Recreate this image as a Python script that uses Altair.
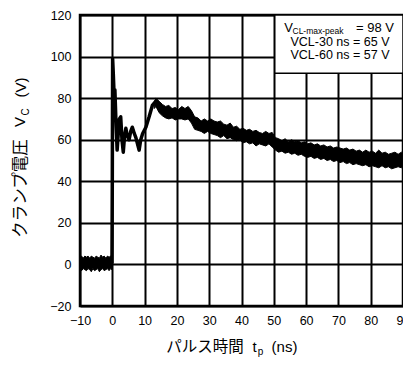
import altair as alt
import pandas as pd

# ---- data ----
base_t = [-10, -9.5, -9, -8.5, -8, -7.5, -7, -6.5, -6, -5.5, -5, -4.5, -4, -3.5, -3, -2.5, -2, -1.5, -1, -0.5, -0.1]
base_lo = [-2, -3, -2, -2.5, -3, -2, -2.5, -3.5, -2, -3, -2.5, -2, -3.5, -2.5, -2, -3, -2.5, -2, -3, -2, -2.5]
base_hi = [3.5, 4, 3, 4, 3.5, 4, 3, 4, 3.5, 3, 4, 3.5, 3, 4.5, 3.5, 4, 3, 4, 3.5, 4, 3.5]

spike_t = [-0.1, 0.0, 0.1, 0.3, 0.5, 0.8, 1.1, 1.5, 1.8, 2.2, 2.6, 3.0, 3.4, 3.8, 4.2, 4.6, 5.2,
           5.7, 6.2, 6.8, 7.3, 7.8, 8.3, 8.8, 9.4, 10.4, 11.4, 12.4, 13.5, 14.2]
spike_v = [0.5, 40, 99, 92, 84, 84, 70, 55, 62, 70, 71, 60, 54, 62, 65.5, 62, 60,
           64, 66, 63, 61, 58, 55, 60, 63, 66, 71, 76.5, 78.5, 77]

band_t = [13.0, 13.5, 14.5, 15.5, 16.5, 17.5, 18.5, 19.5, 20.5, 21.5, 22.5, 23.5, 24.5, 25.5,
          26.5, 27.5, 28.5, 29.5, 30.5, 31.5, 32.5, 33.5, 34.5, 35.5, 36.5, 37.5, 38.5, 39.5,
          40.5, 41.5, 42.5, 43.5, 44.5, 45.5, 46.5, 47.5, 48.5, 49.5, 50.5, 51.5, 52.5, 53.5,
          54.5, 55.5, 56.5, 57.5, 58.5, 59.5, 60.5, 61.5, 62.5, 63.5, 64.5, 65.5, 66.5, 67.5,
          68.5, 69.5, 70.5, 71.5, 72.5, 73.5, 74.5, 75.5, 76.5, 77.5, 78.5, 79.5, 80.5, 81.5,
          82.5, 83.5, 84.5, 85.5, 86.5, 87.5, 88.5, 89.5, 90]
band_lo = [75, 76, 73, 71.5, 70.5, 70, 70.5, 69.5, 70, 70, 69.5, 70, 68, 65,
           64.5, 64, 63, 64, 63, 62.5, 62, 61, 62, 60.5, 61, 60, 59.5, 60,
           58.5, 59, 58, 58.5, 57, 58, 57.5, 57, 58, 56.5, 55, 54, 54.5, 53.5,
           54, 53, 53.5, 52.5, 53, 52, 51.5, 52, 51, 51.5, 50.5, 51, 50, 50.5,
           49.5, 50, 49, 49.5, 48.5, 49, 48, 48.5, 48, 47.5, 48, 47, 47.5, 47,
           46.5, 47.5, 46.5, 47, 46, 46.5, 47, 46.5, 47]
band_hi = [78, 80, 78.5, 77, 76, 76.5, 75, 75.5, 74.5, 76, 75, 76, 74, 71,
           70.5, 69, 70, 69, 70, 69, 68.5, 69, 67.5, 67, 68, 66, 66.5, 65,
           65.5, 64.5, 65, 64, 64.5, 63.5, 63, 64, 63, 63.5, 61, 60.5, 59.5, 60.5,
           59, 60, 59, 59.5, 58.5, 59, 58, 58.5, 57.5, 58, 57, 57.5, 56.5, 57,
           56, 56.5, 56, 55.5, 56, 55, 55.5, 54.5, 55, 54, 55, 54, 54.5, 53.5,
           55, 53.5, 54, 53, 53.5, 54, 53, 54, 53.5]

box_t = [50.3, 90]
box_v = [92, 120]

x_ticks = [-10, 0, 10, 20, 30, 40, 50, 60, 70, 80, 90]
y_ticks = [-20, 0, 20, 40, 60, 80, 100, 120]

JP = "Noto Sans CJK JP"
LAT = "Liberation Sans"

xs = alt.Scale(domain=[-10, 90], nice=False, zero=False)
ys = alt.Scale(domain=[-20, 120], nice=False, zero=False)

xax = alt.Axis(values=x_ticks, labelPadding=8)
yax = alt.Axis(values=y_ticks, labelPadding=9)

base_df = pd.DataFrame({"t": base_t, "lo": base_lo, "hi": base_hi})
band_df = pd.DataFrame({"t": band_t, "lo": band_lo, "hi": band_hi})
spike_df = pd.DataFrame({"t": spike_t, "v": spike_v})
box_df = pd.DataFrame({"t1": [box_t[0]], "t2": [box_t[1]], "v1": [box_v[0]], "v2": [box_v[1]]})

base_area = alt.Chart(base_df).mark_area(color="black", stroke="black", strokeWidth=1).encode(
    x=alt.X("t:Q", scale=xs, axis=xax, title=None),
    y=alt.Y("lo:Q", scale=ys, axis=yax, title=None),
    y2="hi:Q",
)
band_area = alt.Chart(band_df).mark_area(color="black", stroke="black", strokeWidth=1).encode(
    x=alt.X("t:Q", scale=xs, axis=xax, title=None),
    y=alt.Y("lo:Q", scale=ys, axis=yax, title=None),
    y2="hi:Q",
)
spike_line = alt.Chart(spike_df).mark_line(color="black", strokeWidth=3.5, strokeJoin="round").encode(
    x=alt.X("t:Q", scale=xs, axis=xax, title=None),
    y=alt.Y("v:Q", scale=ys, axis=yax, title=None),
)
box = alt.Chart(box_df).mark_rect(fill="white", stroke="black", strokeWidth=1.5).encode(
    x=alt.X("t1:Q", scale=xs, axis=xax, title=None), x2="t2:Q",
    y=alt.Y("v1:Q", scale=ys, axis=yax, title=None), y2="v2:Q",
)

one = pd.DataFrame({"k": [0]})


def txt(s, x, y, size=13, font=LAT, align="center", angle=0):
    kw = dict(text=s, font=font, fontSize=size, align=align, baseline="middle", color="black")
    if angle:
        kw["angle"] = angle
    return alt.Chart(one).mark_text(**kw).encode(x=alt.value(x), y=alt.value(y))


# plot origin is at page (80, 15)
texts = [
    # legend box
    txt("V", 208.5, 13, 13),
    txt("CL-max-peak", 212.5, 16, 8.5, align="left"),
    txt("= 98 V", 295, 13, 13),
    txt("VCL-30 ns = 65 V", 260, 27, 12.5),
    txt("VCL-60 ns = 57 V", 260, 40, 12.5),
    # x title
    txt("パルス時間", 125, 332, 15.5, font=JP),
    txt("t", 174.5, 331.5, 15),
    txt("p", 180.5, 337, 10),
    txt("(ns)", 204.5, 331.5, 15),
    # y title
    txt("クランプ電圧", -59, 173.5, 16.5, font=JP, angle=270),
    txt("V", -60, 107, 15, angle=270),
    txt("C", -54, 97, 10, angle=270),
    txt("(V)", -59, 72.5, 15, angle=270),
]

chart = alt.layer(base_area, band_area, spike_line, box, *texts).properties(
    width=323, height=291,
    background="white",
    autosize=alt.AutoSizeParams(type="none"),
    padding={"left": 72, "top": 7, "right": 0, "bottom": 51},
).configure_view(
    stroke="black", strokeWidth=2.5
).configure_axis(
    grid=True, gridColor="black", gridWidth=2, gridOpacity=1,
    ticks=False, domain=False,
    labelFont=LAT, labelFontSize=12.5, labelColor="black",
    labelOverlap=False, labelFlush=False, labelBound=False,
)

chart.save("out.html", embed_options={"renderer": "svg", "actions": False})
